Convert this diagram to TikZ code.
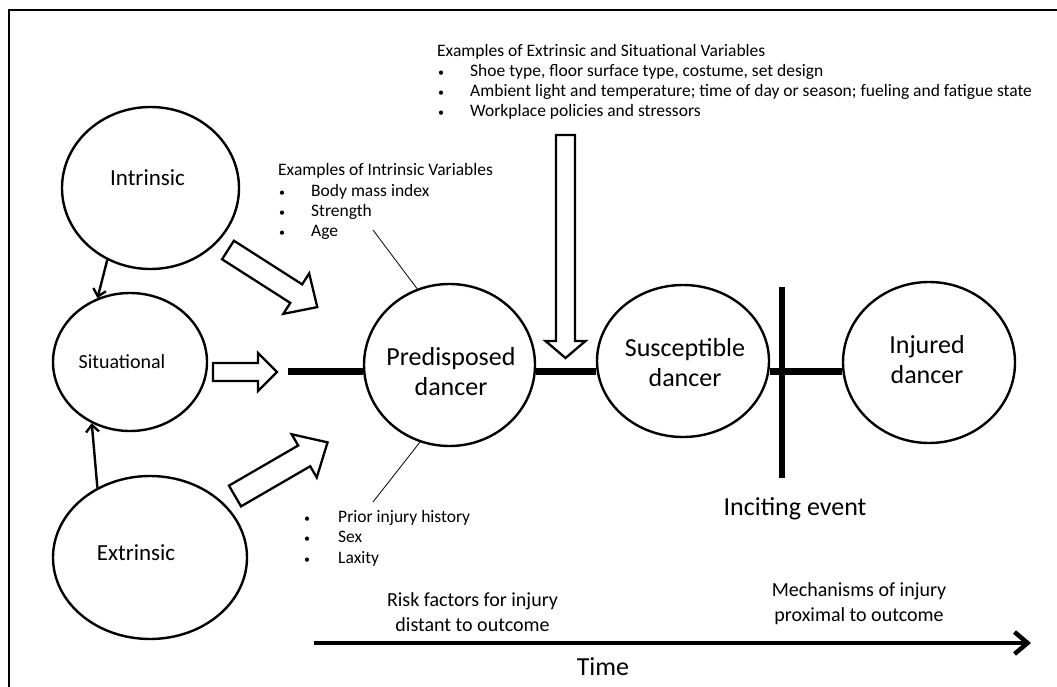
\documentclass[tikz,border=0pt]{standalone}
\usepackage{fontspec}
\setmainfont{Carlito}
\usetikzlibrary{shapes.geometric,arrows.meta,calc}
% hollow block arrow: #1 tail point, #2 angle, #3 length, #4 shaft half width, #5 head half width, #6 head length
\newcommand\harrow[6]{%
  \begin{scope}[shift={#1}, rotate=#2]
    \draw[blockarrow] (0,#4) -- ({#3-#6},#4) -- ({#3-#6},#5) -- (#3,0) -- ({#3-#6},-#5) -- ({#3-#6},-#4) -- (0,-#4) -- cycle;
  \end{scope}}
\begin{document}
\begin{tikzpicture}[x=1pt,y=-1pt,
  ell/.style={draw, ellipse, line width=2.4pt, inner sep=0pt},
  blockarrow/.style={line width=2.3pt, line join=miter},
  thickln/.style={line width=7pt},
  smallarr/.style={line width=2.4pt, -{Straight Barb[length=7pt,width=13pt]}},
  leader/.style={line width=0.8pt},
  bigtxt/.style={font=\fontsize{26}{30}\selectfont, align=center, inner sep=0pt},
  midtxt/.style={font=\fontsize{20}{25}\selectfont, align=center, inner sep=0pt},
  smalltxt/.style={font=\fontsize{17.5}{20}\selectfont, anchor=base west, inner sep=0pt},
  bul/.style={font=\fontsize{12}{20}\selectfont, anchor=base west, inner sep=0pt},
]
\useasboundingbox (0,0) rectangle (1057,687);
% frame
\draw[line width=2pt] (9,687) -- (9,10) -- (1057,10);

% ellipses
\node[ell, minimum width=177pt, minimum height=162pt] (intr) at (150.5,188) {};
\node[ell, minimum width=154pt, minimum height=138pt] (sit) at (130,362) {};
\node[ell, minimum width=194pt, minimum height=163pt] (extr) at (150,557.5) {};
\node[ell, minimum width=171pt, minimum height=162pt] (pre) at (449.5,365) {};
\node[ell, minimum width=172pt, minimum height=152pt] (sus) at (683,361) {};
\node[ell, minimum width=172pt, minimum height=161pt] (inj) at (929,362.5) {};

% ellipse texts
\node[font=\fontsize{23}{27}\selectfont, inner sep=0pt] (tintr) at (147.5,178) {Intrinsic};
\node[font=\fontsize{20}{24}\selectfont, inner sep=0pt] (tsit) at (122,362) {Situational};
\node[font=\fontsize{23}{27}\selectfont, inner sep=0pt] (textr) at (136,553) {Extrinsic};
\node[bigtxt] (tpre) at (451,372) {Predisposed\\dancer};
\node[bigtxt] (tsus) at (685,363) {Susceptible\\dancer};
\node[bigtxt] (tinj) at (927,360) {Injured\\dancer};

% small arrows
\draw[smallarr] (intr.239) -- (sit.117);
\draw[smallarr] (extr.127) -- (sit.238);

% hollow arrows
\harrow{(228,250)}{-32.6}{106}{11}{24}{25}
\harrow{(235,496)}{30.1}{107}{12}{25}{27}
\harrow{(213,372)}{0}{64}{9}{19}{19}
\harrow{(565.5,135)}{-90}{223}{9.5}{20}{17}

% thick timeline
\coordinate (lstart) at (288,371);
\draw[thickln] (lstart) -- (lstart -| pre.west);
\draw[thickln] (lstart -| pre.east) -- (lstart -| sus.west);
\draw[thickln] (lstart -| sus.east) -- (lstart -| inj.west);
\coordinate (inctop) at (781.5,287);
\coordinate (incbot) at (781.5,478);
\draw[line width=6pt] (inctop) -- (incbot);
\node[bigtxt] (tinc) at (795,509) {Inciting event};

% leader lines
\coordinate (agetip) at (373,230);
\coordinate (laxtip) at (373,502);
\draw[leader] (agetip) -- (pre.113);
\draw[leader] (pre.249) -- (laxtip);

% extrinsic/situational list
\node[smalltxt] (exh) at (437,56.5) {Examples of Extrinsic and Situational Variables};
\node[bul] (exb1) at (438,76.5) {•};
\node[smalltxt] (exi1) at (470,76.5) {Shoe type, floor surface type, costume, set design};
\node[bul] (exb2) at (438,96.5) {•};
\node[smalltxt] (exi2) at (470,96.5) {Ambient light and temperature; time of day or season; fueling and fatigue state};
\node[bul] (exb3) at (438,116.5) {•};
\node[smalltxt] (exi3) at (470,116.5) {Workplace policies and stressors};

% intrinsic list
\node[smalltxt] (inh) at (278,175.5) {Examples of Intrinsic Variables};
\node[bul] (inb1) at (279,196.5) {•};
\node[smalltxt] (ini1) at (311,196.5) {Body mass index};
\node[bul] (inb2) at (279,216.5) {•};
\node[smalltxt] (ini2) at (311,216.5) {Strength};
\node[bul] (inb3) at (279,236.5) {•};
\node[smalltxt] (ini3) at (311,236.5) {Age};

% lower list
\node[bul] (lob1) at (304,522.5) {•};
\node[smalltxt] (loi1) at (338,522.5) {Prior injury history};
\node[bul] (lob2) at (304,542.5) {•};
\node[smalltxt] (loi2) at (338,542.5) {Sex};
\node[bul] (lob3) at (304,563.5) {•};
\node[smalltxt] (loi3) at (338,563.5) {Laxity};

% time axis
\node[midtxt] (trisk) at (472.5,612) {Risk factors for injury\\distant to outcome};
\node[midtxt] (tmech) at (859,604) {Mechanisms of injury\\proximal to outcome};
\coordinate (tstart) at (314,643);
\coordinate (tend) at (1031,643);
\draw[line width=4.5pt, -{Straight Barb[length=13pt,width=22pt]}] (tstart) -- (tend);
\node[bigtxt] (ttime) at (603,667) {Time};
\end{tikzpicture}
\end{document}
